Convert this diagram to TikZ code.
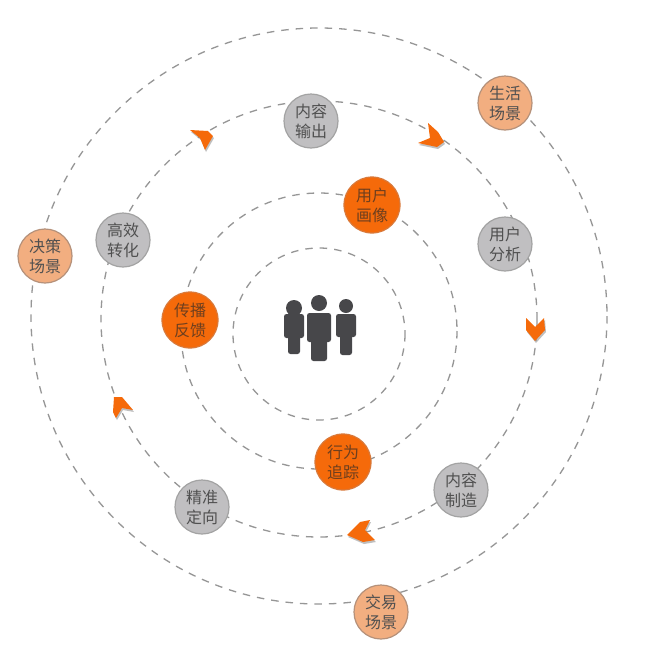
\documentclass[tikz,border=0pt]{standalone}
\usepackage{fontspec}
\setmainfont{Noto Sans CJK SC}
\definecolor{ringc}{HTML}{969696}
\definecolor{hot}{HTML}{F56A0A}
\definecolor{hotb}{HTML}{D9793A}
\definecolor{peach}{HTML}{F2AE80}
\definecolor{peachb}{HTML}{B5917A}
\definecolor{greyf}{HTML}{C0BFC1}
\definecolor{greyb}{HTML}{A3A3A3}
\definecolor{inkd}{HTML}{505050}
\definecolor{inkh}{HTML}{6E3F1E}
\definecolor{people}{HTML}{47474A}
\tikzset{
  ring/.style={draw=ringc,line width=1.3pt,dash pattern=on 7.5pt off 7pt},
  blob/.style={circle,minimum size=54pt,inner sep=0pt,align=center,font=\fontsize{16pt}{20pt}\selectfont,line width=1.2pt},
  hotn/.style={blob,minimum size=56pt,fill=hot,draw=hotb,text=inkh},
  peachn/.style={blob,fill=peach,draw=peachb,text=inkd},
  greyn/.style={blob,fill=greyf,draw=greyb,text=inkd},
  chev/.style={fill=hot,draw=none},
  chevs/.style={fill=black!45,draw=none,opacity=.55},
  person/.style={fill=people,draw=none}
}
\newcommand{\chevron}[1]{\fill[chevs,shift={(1pt,-2pt)}] #1; \fill[chev] #1;}
\newcommand{\human}[7]{%
  \fill[person] (#1,#2) circle[radius=#3];
  \fill[person,rounded corners=2.5pt] (#1-#4,#5) rectangle (#1+#4,#6);
  \fill[person,rounded corners=2.5pt] (#1-#4+4,#6-6) rectangle (#1+#4-4,#7);
}
\begin{document}
\begin{tikzpicture}[x=1pt,y=-1pt]
\useasboundingbox[fill=white] (0,0) rectangle (645,659);
\draw[ring] (319,334) circle[radius=86];
\draw[ring] (319,331) circle[radius=138];
\draw[ring] (319,319) circle[radius=218];
\draw[ring] (319,316) circle[radius=288];
\human{294}{308}{8}{10}{314}{338}{354}
\human{319}{303}{8}{12}{313}{342}{361}
\human{346}{306}{7}{10}{314}{337}{355}
\node[hotn] (n1) at (372,205) {用户\\画像};
\node[hotn] (n2) at (190,320) {传播\\反馈};
\node[hotn] (n3) at (343,462) {行为\\追踪};
\node[greyn] (n4) at (311,121) {内容\\输出};
\node[greyn] (n5) at (505,244) {用户\\分析};
\node[greyn] (n6) at (461,490) {内容\\制造};
\node[greyn] (n7) at (202,507) {精准\\定向};
\node[greyn] (n8) at (123,240) {高效\\转化};
\node[peachn] (n9) at (505,103) {生活\\场景};
\node[peachn] (n10) at (45,256) {决策\\场景};
\node[peachn] (n11) at (381,612) {交易\\场景};
\chevron{(428,123)--(438,132)--(444,142)--(437,147)--(418,143)--(430,138)--cycle}
\chevron{(347,535)--(360,522)--(370,520)--(365,530)--(375,540)--(363,542)--cycle}
\chevron{(114,397)--(122,397)--(133,410)--(122,408)--(116,418)--(113,412)--cycle}
\chevron{(190,130)--(208,131)--(213,136)--(205,150)--(200,138)--cycle}
\chevron{(526,318)--(535,327)--(544,318)--(545,330)--(535,341)--(526,330)--cycle}
\end{tikzpicture}
\end{document}
